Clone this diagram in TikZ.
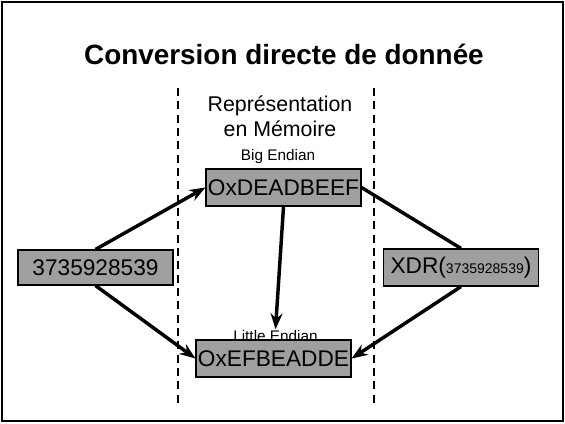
\documentclass[tikz,border=0pt]{standalone}
\usepackage{fontspec}
\setmainfont{Liberation Sans}
\usepackage{tikz}
\usetikzlibrary{arrows.meta,positioning}

\begin{document}
\begin{tikzpicture}[
    x=0.75pt, y=-0.75pt,
    membox/.style={rectangle, draw=black, fill=gray!75, line width=1.1pt, minimum width=116pt, minimum height=28pt, inner sep=0pt, font=\fontsize{17}{18}\selectfont},
    endlabel/.style={font=\fontsize{11.5}{13}\selectfont, inner sep=1pt},
    conv/.style={line width=2.6pt, -{Stealth[length=12pt, width=9pt, inset=4pt]}},
    plain/.style={line width=2.6pt},
    sep/.style={line width=1.1pt, dash pattern=on 6pt off 4pt}
]
    \useasboundingbox (0,0) rectangle (565,424);
    \draw[line width=1.6pt] (2,2) rectangle (563,421);

    % titre
    \node[anchor=base, font=\bfseries\fontsize{20.9}{24}\selectfont] (title) at (284,65) {Conversion directe de donnée};

    % zone memoire
    \draw[sep] (178,88) -- (178,405);
    \draw[sep] (374,88) -- (374,405);
    \node[align=center, font=\fontsize{16}{18.8}\selectfont] (mem) at (280,116) {Représentation\\ en Mémoire};
    \node[endlabel, anchor=base] (be) at (278,161) {Big Endian};
    \node[endlabel, anchor=base] (le) at (275.5,342) {Little Endian};

    % boites
    \node[membox] (big) at (283.5,187.5) {OxDEADBEEF};
    \node[membox] (little) at (273.5,358.5) {OxEFBEADDE};
    \node[membox, minimum height=26pt] (dec) at (95.5,267.5) {3735928539};
    \node[membox, minimum height=27.5pt] (xdr) at (461,267.5) {XDR({\fontsize{10.5}{12}\selectfont 3735928539})};

    % fleches
    \draw[conv] (dec.north) -- (big.west);
    \draw[conv] (dec.south) -- (little.west);
    \draw[conv] (big.south) -- (le.north);
    \draw[plain] (big.east) -- (xdr.north);
    \draw[conv] (xdr.south) -- (little.east);
\end{tikzpicture}
\end{document}
